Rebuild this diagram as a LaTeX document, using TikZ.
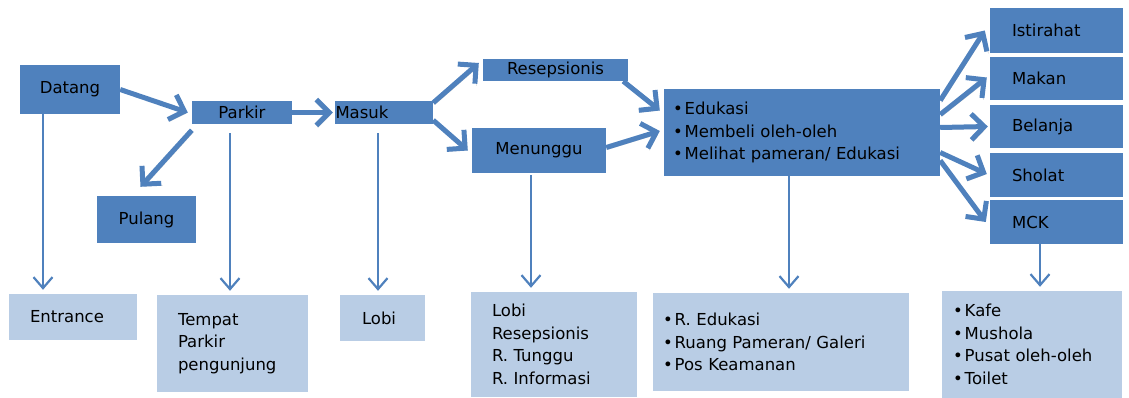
\documentclass[tikz,border=0pt]{standalone}
\usepackage{fontspec}
\setmainfont{DejaVu Sans}
\usetikzlibrary{arrows.meta}

\definecolor{tahap}{HTML}{4F81BD}
\definecolor{ruang}{HTML}{B9CDE5}
\newcommand{\butir}{\textbullet\hspace{2pt}}

\begin{document}
\begin{tikzpicture}[x=1pt, y=-1pt,
		font=\fontsize{16.5}{22.5}\selectfont,
		tahap/.style={rectangle, fill=tahap, inner sep=0pt, align=center},
		ruang/.style={rectangle, fill=ruang, inner sep=0pt, align=left},
		alur/.style={line width=5pt, draw=tahap, -{Straight Barb[length=13pt, width=26pt]},
			preaction={draw=black, opacity=.22, transform canvas={shift={(1.5pt,-2pt)}}}},
		ke/.style={line width=2.2pt, draw=tahap, -{Straight Barb[length=11pt, width=19pt]}, shorten >=4pt}
		]
	\useasboundingbox (0,0) rectangle (1129,398);

	% tahapan kunjungan
	\node [tahap, minimum width=100pt, minimum height=49pt] (datang) at (70,89.5) {Datang};
	\node [tahap, minimum width=100pt, minimum height=23pt, text width=90pt] (parkir) at (242,112.5) {Parkir};
	\node [tahap, minimum width=98pt, minimum height=23pt, text width=97pt, align=left] (masuk) at (384,112.5) {Masuk};
	\node [tahap, minimum width=99pt, minimum height=47pt] (pulang) at (146.5,219.5) {Pulang};
	\node [tahap, minimum width=145pt, minimum height=22pt, text width=135pt] (resep) at (555.5,70) {Resepsionis};
	\node [tahap, minimum width=134pt, minimum height=45pt, text width=124pt] (tunggu) at (539,150.5) {Menunggu};
	\node [tahap, minimum width=276pt, minimum height=87pt, text width=258pt, align=left] (kegiatan) at (802,132.5)
		{\butir Edukasi\\ \butir Membeli oleh-oleh\\ \butir Melihat pameran/ Edukasi};
	\node [tahap, minimum width=133pt, minimum height=45pt, text width=89pt, align=left] (istirahat) at (1056.5,30.5) {Istirahat};
	\node [tahap, minimum width=133pt, minimum height=43pt, text width=89pt, align=left] (makan) at (1056.5,78.5) {Makan};
	\node [tahap, minimum width=133pt, minimum height=43pt, text width=89pt, align=left] (belanja) at (1056.5,126.5) {Belanja};
	\node [tahap, minimum width=133pt, minimum height=44pt, text width=89pt, align=left] (sholat) at (1056.5,175) {Sholat};
	\node [tahap, minimum width=133pt, minimum height=44pt, text width=89pt, align=left] (mck) at (1056.5,222) {MCK};

	% ruang yang dibutuhkan
	\node [ruang, minimum width=128pt, minimum height=46pt, text width=86pt] (entrance) at (73,317) {Entrance};
	\node [ruang, minimum width=151pt, minimum height=97pt, text width=109pt] (tempat) at (232.5,343.5) {Tempat\\ Parkir\\ pengunjung};
	\node [ruang, minimum width=85pt, minimum height=46pt, text width=41pt] (lobi) at (382.5,318) {Lobi};
	\node [ruang, minimum width=166pt, minimum height=105pt, text width=124pt] (lobilist) at (554,344.5)
		{Lobi\\ Resepsionis\\ R. Tunggu\\ R. Informasi};
	\node [ruang, minimum width=256pt, minimum height=98pt, text width=236pt] (ruangan) at (781,342)
		{\butir R. Edukasi\\ \butir Ruang Pameran/ Galeri\\ \butir Pos Keamanan};
	\node [ruang, minimum width=180pt, minimum height=107pt, text width=158pt] (fasilitas) at (1032,344.5)
		{\butir Kafe\\ \butir Mushola\\ \butir Pusat oleh-oleh\\ \butir Toilet};

	% alur utama
	\draw [alur] (datang.east) -- ([xshift=-4pt]parkir.west);
	\draw [alur] (parkir.east) -- ([xshift=-2pt]masuk.west);
	\draw [alur] ([yshift=-6pt]parkir.south west) -- ([xshift=-6pt, yshift=9pt]pulang.north);
	\draw [alur] ([yshift=-2pt]masuk.north east) -- ([xshift=-4pt, yshift=7pt]resep.west);
	\draw [alur] ([yshift=4pt]masuk.south east) -- ([xshift=-4pt]tunggu.west);
	\draw [alur] ([xshift=-5pt]resep.south east) -- ([xshift=-4pt, yshift=22pt]kegiatan.west);
	\draw [alur] ([yshift=3pt]tunggu.east) -- ([xshift=-4pt, yshift=1.5pt]kegiatan.west);
	\draw [alur] ([yshift=32pt]kegiatan.east) -- ([xshift=-5pt]istirahat.west);
	\draw [alur] ([yshift=18pt]kegiatan.east) -- ([xshift=-3pt, yshift=1pt]makan.west);
	\draw [alur] ([yshift=5pt]kegiatan.east) -- ([xshift=-2pt]belanja.west);
	\draw [alur] ([yshift=-20pt]kegiatan.east) -- ([xshift=-3pt, yshift=1pt]sholat.west);
	\draw [alur] ([yshift=-28pt]kegiatan.east) -- ([xshift=-4pt]mck.west);

	% tahap ke ruang
	\draw [ke] ([xshift=-27pt]datang.south) -- ([xshift=-27pt]datang.south |- entrance.north);
	\draw [ke, shorten <=9pt] ([xshift=-12pt]parkir.south) -- ([xshift=-12pt]parkir.south |- tempat.north);
	\draw [ke, shorten <=9pt] ([xshift=-6pt]masuk.south) -- ([xshift=-6pt]masuk.south |- lobi.north);
	\draw [ke, shorten <=2pt] ([xshift=-8pt]tunggu.south) -- ([xshift=-8pt]tunggu.south |- lobilist.north);
	\draw [ke] ([xshift=-13pt]kegiatan.south) -- ([xshift=-13pt]kegiatan.south |- ruangan.north);
	\draw [ke] ([xshift=-16.5pt]mck.south) -- ([xshift=-16.5pt]mck.south |- fasilitas.north);
\end{tikzpicture}
\end{document}
